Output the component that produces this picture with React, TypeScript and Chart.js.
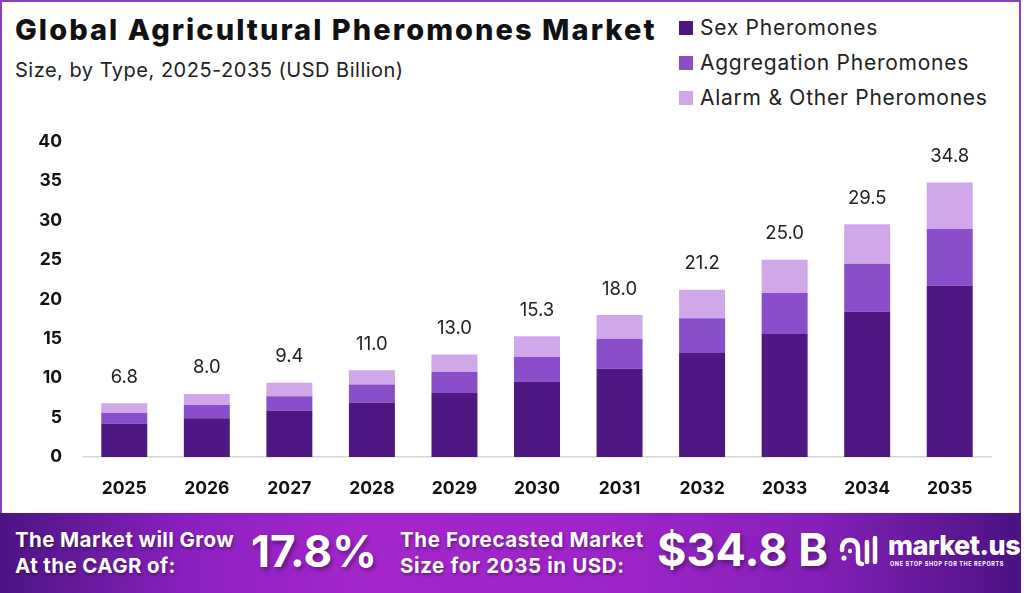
import React, { useEffect, useRef } from "react";
import { Chart, registerables } from "chart.js";

Chart.register(...registerables);

const years = ["2025", "2026", "2027", "2028", "2029", "2030", "2031", "2032", "2033", "2034", "2035"];
const sexPheromones = [4.2, 4.9, 5.9, 6.9, 8.1, 9.5, 11.2, 13.2, 15.6, 18.4, 21.7];
const aggregationPheromones = [1.4, 1.7, 1.8, 2.3, 2.7, 3.2, 3.8, 4.4, 5.2, 6.1, 7.2];
const alarmOtherPheromones = [1.2, 1.4, 1.7, 1.8, 2.2, 2.6, 3.0, 3.6, 4.2, 5.0, 5.9];
const totalLabels = ["6.8", "8.0", "9.4", "11.0", "13.0", "15.3", "18.0", "21.2", "25.0", "29.5", "34.8"];

const seriesNames = ["Sex Pheromones", "Aggregation Pheromones", "Alarm & Other Pheromones"];
const seriesColors = ["#4e1782", "#8a4ecb", "#d0a8ea"];

const FONT = "Inter, 'Noto Sans', sans-serif";

const totalsPlugin = {
  id: "totals",
  afterDatasetsDraw(chart: any) {
    const ctx = chart.ctx;
    const last = chart.getDatasetMeta(chart.data.datasets.length - 1);
    ctx.save();
    ctx.font = `400 18.5px ${FONT}`;
    ctx.fillStyle = "#222";
    ctx.textAlign = "center";
    ctx.textBaseline = "middle";
    last.data.forEach((bar: any, i: number) => {
      ctx.fillText(totalLabels[i], bar.x, bar.y - 26);
    });
    ctx.restore();
  },
};

function BarChart() {
  const ref = useRef<HTMLCanvasElement>(null);
  useEffect(() => {
    if (!ref.current) return;
    const data = [sexPheromones, aggregationPheromones, alarmOtherPheromones];
    const chart = new Chart(ref.current, {
      type: "bar",
      data: {
        labels: years,
        datasets: data.map((d, i) => ({
          label: seriesNames[i],
          data: d,
          backgroundColor: seriesColors[i],
          borderWidth: 0,
          barPercentage: 0.557,
          categoryPercentage: 1,
        })),
      },
      options: {
        animation: false,
        responsive: false,
        maintainAspectRatio: false,
        layout: { padding: { top: 29, right: 33, left: 0, bottom: 0 } },
        plugins: { legend: { display: false }, tooltip: { enabled: false } },
        scales: {
          x: {
            stacked: true,
            grid: { display: false, drawTicks: false },
            border: { display: true, color: "#d6d6d6", width: 1.5 },
            ticks: { color: "#111", font: { family: FONT, size: 17.5, weight: "bold" }, padding: 21 },
            afterFit: (s: any) => { s.height = 53; },
          },
          y: {
            stacked: true,
            min: 0,
            max: 40,
            grid: { display: false, drawTicks: false },
            border: { display: false },
            ticks: { stepSize: 5, color: "#111", font: { family: FONT, size: 17.5, weight: "bold" }, padding: 21 },
            afterFit: (s: any) => { s.width = 83; },
          },
        },
      },
      plugins: [totalsPlugin],
    });
    return () => chart.destroy();
  }, []);
  return <canvas ref={ref} width={1024} height={400} style={{ position: "absolute", left: 0, top: 110, width: 1024, height: 400 }} />;
}

function LogoIcon() {
  return (
    <svg width="44" height="34" viewBox="0 0 44 34" style={{ position: "absolute", left: 836, top: 534 }}>
      <g fill="none" stroke="#fff" strokeWidth="4.5" strokeLinecap="round">
        <path d="M6 16 Q6 6 14 6 Q22 6 22 16 L22 26 Q22 30 26 30" />
        <path d="M31 8 L31 28" />
        <path d="M39 4 L39 28" />
      </g>
      <circle cx="8" cy="24" r="2.6" fill="#fff" />
      <circle cx="14" cy="17" r="2.2" fill="#fff" />
    </svg>
  );
}

export default function App() {
  const shadowSmall = "1px 2px 3px rgba(0,0,0,0.35)";
  const shadowBig = "2px 3px 4px rgba(0,0,0,0.35)";
  return (
    <div style={{ position: "fixed", left: 0, top: 0, width: 1024, height: 593, background: "#fff", overflow: "hidden", fontFamily: FONT }}>
      <div style={{ position: "absolute", left: 0, top: 0, width: 1017, height: 511, border: "2px solid #8b3fc4", boxSizing: "content-box" }} />
      <div style={{ position: "absolute", left: 15, top: 12, fontSize: 29, fontWeight: 800, color: "#111", letterSpacing: 2.05, whiteSpace: "nowrap" }}>
        Global Agricultural Pheromones Market
      </div>
      <div style={{ position: "absolute", left: 15, top: 58, fontSize: 20, fontWeight: 400, color: "#222", letterSpacing: 0.5, whiteSpace: "nowrap" }}>
        Size, by Type, 2025-2035 (USD Billion)
      </div>
      {seriesNames.map((n, i) => (
        <div key={n} style={{ position: "absolute", left: 679, top: 15 + i * 35, display: "flex", alignItems: "center", whiteSpace: "nowrap" }}>
          <div style={{ width: 14, height: 14, background: seriesColors[i], marginRight: 7 }} />
          <div style={{ fontSize: 21, color: "#222", letterSpacing: 0.75 }}>{n}</div>
        </div>
      ))}
      <BarChart />
      <div style={{ position: "absolute", left: 0, top: 513, width: 1021, height: 80, background: "linear-gradient(90deg, #4b1482 0%, #8a20bf 18%, #a326cb 35%, #9d24c8 60%, #8520b8 80%, #4a1282 100%)" }} />
      <div style={{ position: "absolute", left: 15, top: 527, color: "#fff", fontSize: 20.5, fontWeight: 700, lineHeight: "26px", letterSpacing: 0.4, whiteSpace: "nowrap", textShadow: shadowSmall }}>
        The Market will Grow<br />At the CAGR of:
      </div>
      <div style={{ position: "absolute", left: 251, top: 523, color: "#fff", fontSize: 44, fontWeight: 700, lineHeight: "56px", whiteSpace: "nowrap", textShadow: shadowBig }}>
        17.8%
      </div>
      <div style={{ position: "absolute", left: 400, top: 527, color: "#fff", fontSize: 20.5, fontWeight: 700, lineHeight: "26px", letterSpacing: 0.6, whiteSpace: "nowrap", textShadow: shadowSmall }}>
        The Forecasted Market<br />Size for 2035 in USD:
      </div>
      <div style={{ position: "absolute", left: 657, top: 522, color: "#fff", fontSize: 45, fontWeight: 700, lineHeight: "56px", whiteSpace: "nowrap", textShadow: shadowBig }}>
        $34.8 B
      </div>
      <LogoIcon />
      <div style={{ position: "absolute", left: 888, top: 531, color: "#fff", fontSize: 27, fontWeight: 800, lineHeight: "30px", whiteSpace: "nowrap", letterSpacing: -0.5 }}>
        market.us
      </div>
      <div style={{ position: "absolute", left: 890, top: 561, color: "#fff", fontSize: 5.5, fontWeight: 700, whiteSpace: "nowrap", letterSpacing: 0.6 }}>
        ONE STOP SHOP FOR THE REPORTS
      </div>
    </div>
  );
}
